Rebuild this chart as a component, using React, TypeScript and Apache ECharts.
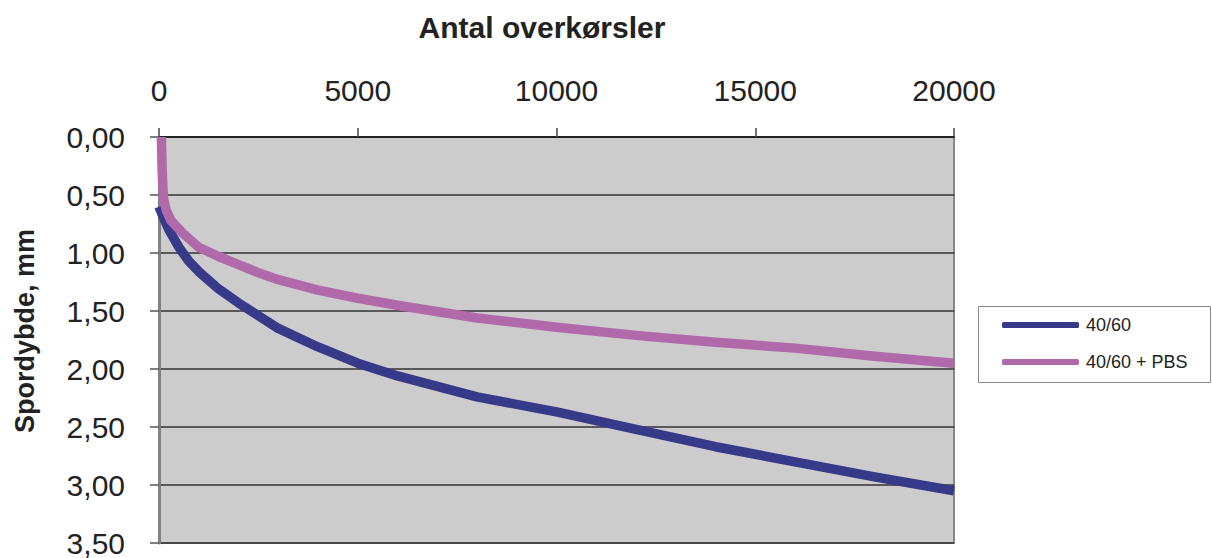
import React, { useEffect, useRef } from "react";
import * as echarts from "echarts";

const seriesNames = ["40/60", "40/60 + PBS"];

const passesA = [0, 120, 250, 500, 750, 1000, 1500, 2000, 3000, 4000, 5000, 6000, 8000, 10000, 12000, 14000, 16000, 18000, 20000];
const depthA = [0.6, 0.7, 0.8, 0.95, 1.07, 1.16, 1.31, 1.43, 1.65, 1.81, 1.95, 2.06, 2.24, 2.37, 2.52, 2.67, 2.8, 2.93, 3.05];

const passesB = [60, 80, 110, 180, 300, 600, 1000, 1500, 2000, 2500, 3000, 4000, 5000, 6000, 8000, 10000, 12000, 14000, 16000, 18000, 20000];
const depthB = [0.0, 0.3, 0.52, 0.63, 0.72, 0.83, 0.95, 1.03, 1.1, 1.17, 1.23, 1.32, 1.39, 1.45, 1.56, 1.64, 1.71, 1.77, 1.82, 1.89, 1.95];

const xTitle = "Antal overkørsler";
const yTitle = "Spordybde, mm";

const FONT = "'Liberation Sans', Arial, sans-serif";

export default function App() {
  const ref = useRef<HTMLDivElement>(null);
  useEffect(() => {
    if (!ref.current) return;
    const chart = echarts.init(ref.current, undefined, { renderer: "svg" });
    const colors = ["#363a88", "#b06aaa"];
    chart.setOption({
      animation: false,
      backgroundColor: "#ffffff",
      grid: {
        left: 159,
        top: 137,
        right: 258,
        bottom: 11,
        show: true,
        backgroundColor: "#cccccc",
        borderColor: "#888888",
        borderWidth: 2,
      },
      xAxis: {
        type: "value",
        position: "top",
        min: 0,
        max: 20000,
        interval: 5000,
        axisLine: { show: true, lineStyle: { color: "#222222", width: 2 } },
        axisTick: { show: true, inside: false, length: 9, lineStyle: { color: "#444444", width: 1.5 } },
        splitLine: { show: false },
        axisLabel: {
          fontSize: 30,
          color: "#222222",
          fontFamily: FONT,
          margin: 32,
          formatter: (v: number) => String(v),
        },
      },
      yAxis: {
        type: "value",
        inverse: true,
        min: 0,
        max: 3.5,
        interval: 0.5,
        axisLine: { show: true, lineStyle: { color: "#808080", width: 3 } },
        axisTick: { show: true, inside: false, length: 9, lineStyle: { color: "#555555", width: 1.5 } },
        splitLine: { show: true, lineStyle: { color: "#333333", width: 1.5 } },
        axisLabel: {
          fontSize: 30,
          color: "#222222",
          fontFamily: FONT,
          margin: 34,
          formatter: (v: number) => v.toFixed(2).replace(".", ","),
        },
      },
      legend: {
        orient: "vertical",
        left: 1002,
        top: 316,
        padding: 0,
        itemWidth: 77,
        itemHeight: 6,
        itemGap: 19,
        icon: "roundRect",
        textStyle: { fontSize: 18, color: "#222222", fontFamily: FONT, padding: [0, 0, 0, 2] },
        data: seriesNames,
      },
      graphic: [
        {
          type: "rect",
          z: 0,
          shape: { x: 978.5, y: 306.5, width: 232, height: 76 },
          style: { fill: "#ffffff", stroke: "#888888", lineWidth: 1 },
        },
        {
          type: "text",
          x: 542,
          y: 27,
          style: {
            text: xTitle,
            font: `bold 30px ${FONT}`,
            fill: "#222222",
            textAlign: "center",
            textVerticalAlign: "middle",
          },
        },
        {
          type: "text",
          x: 25,
          y: 331,
          rotation: Math.PI / 2,
          style: {
            text: yTitle,
            font: `bold 27px ${FONT}`,
            fill: "#222222",
            textAlign: "center",
            textVerticalAlign: "middle",
          },
        },
      ],
      series: [
        {
          name: seriesNames[0],
          type: "line",
          data: passesA.map((x, i) => [x, depthA[i]]),
          showSymbol: false,
          smooth: false,
          clip: false,
          color: colors[0],
          lineStyle: { color: colors[0], width: 9.5, join: "round" },
          itemStyle: { color: colors[0] },
        },
        {
          name: seriesNames[1],
          type: "line",
          data: passesB.map((x, i) => [x, depthB[i]]),
          showSymbol: false,
          smooth: false,
          clip: false,
          color: colors[1],
          lineStyle: { color: colors[1], width: 9.5, join: "round" },
          itemStyle: { color: colors[1] },
        },
      ],
    });
    return () => chart.dispose();
  }, []);
  return (
    <div
      ref={ref}
      style={{ position: "fixed", left: 0, top: 0, width: 1212, height: 558 }}
    />
  );
}
